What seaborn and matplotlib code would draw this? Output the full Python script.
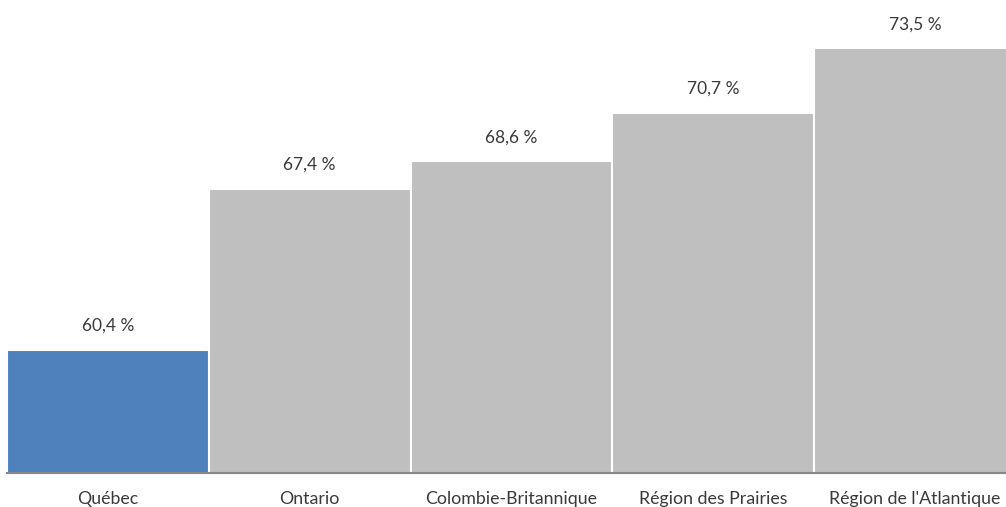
import matplotlib
matplotlib.use("Agg")
import matplotlib.pyplot as plt
import seaborn as sns
import pandas as pd

categories = ["Québec", "Ontario", "Colombie-Britannique", "Région des Prairies", "Région de l'Atlantique"]
values = [60.4, 67.4, 68.6, 70.7, 73.5]
value_labels = ["60,4 %", "67,4 %", "68,6 %", "70,7 %", "73,5 %"]
bar_colors = ["#4F81BD", "#BFBFBF", "#BFBFBF", "#BFBFBF", "#BFBFBF"]

sns.set_theme(style="white")
plt.rcParams['font.family'] = ['Lato', 'DejaVu Sans']

df = pd.DataFrame({"cat": categories, "val": values})

W, H = 1006, 507
fig = plt.figure(figsize=(W / 100, H / 100), dpi=100)
ax = fig.add_axes([7 / W, (H - 472.5) / H, (W - 7) / W, 472.5 / H])

sns.barplot(data=df, x="cat", y="val", hue="cat", palette=bar_colors, saturation=1,
            width=1.0, edgecolor="white", linewidth=1.5, legend=False, ax=ax)

ax.set_ylim(55.08, 75.6)
ax.set_xlim(-0.5, 4.45)

for i, (v, lab) in enumerate(zip(values, value_labels)):
    ax.annotate(lab, (i, v), xytext=(0, 24), textcoords="offset pixels",
                ha="center", va="center", fontsize=12.5, color="#3a3a3a")

ax.set_xlabel("")
ax.set_ylabel("")
ax.set_yticks([])
ax.tick_params(axis="x", length=0, pad=13, labelsize=12.8, labelcolor="#3a3a3a")
for s in ["top", "right", "left"]:
    ax.spines[s].set_visible(False)
ax.spines["bottom"].set_color("#868686")
ax.spines["bottom"].set_linewidth(1.5)

fig.savefig("out.png", dpi=100)
